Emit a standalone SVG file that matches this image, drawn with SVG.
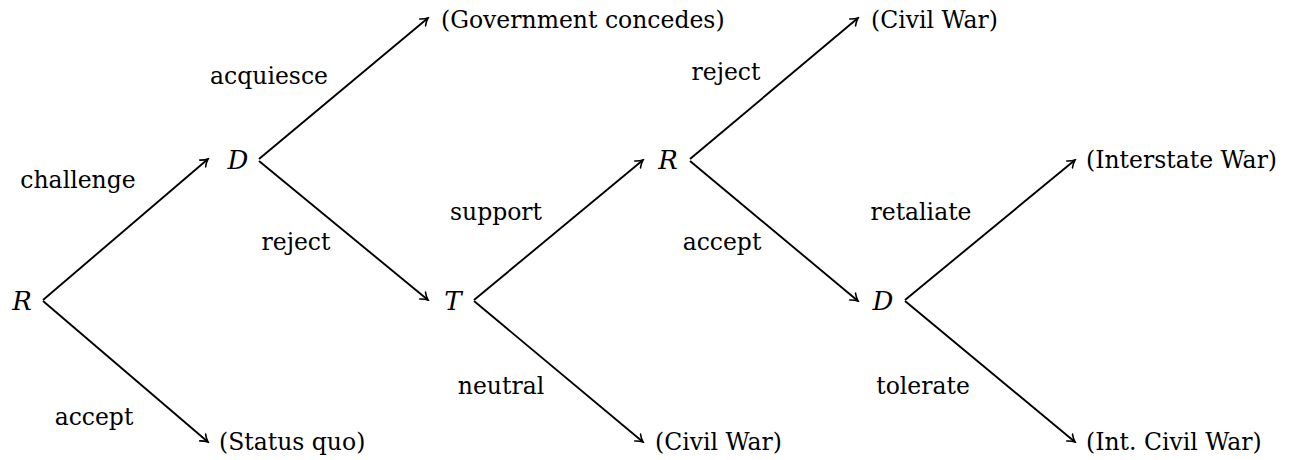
<svg xmlns="http://www.w3.org/2000/svg" width="1289" height="460" viewBox="0 0 1289 460">
<style>
text{font-family:"DejaVu Serif","Liberation Serif",serif;font-size:23.5px;fill:#000}
.n{font-style:italic;text-anchor:middle;font-size:26px}
.l{text-anchor:middle}
.e{stroke:#000;stroke-width:1.9;fill:none;marker-end:url(#a)}
</style>
<defs>
<marker id="a" viewBox="-8 -6 10 12" refX="0" refY="0" markerWidth="10" markerHeight="12" markerUnits="userSpaceOnUse" orient="auto">
<path d="M-7,-4.5 Q-3,-1 0,0 Q-3,1 -7,4.5" fill="none" stroke="#000" stroke-width="1.6" stroke-linecap="round"/>
</marker>
</defs>
<rect width="1289" height="460" fill="#fff"/>
<g id="connectors">
<line class="e" x1="43" y1="300" x2="208" y2="159"/>
<line class="e" x1="43" y1="301" x2="208" y2="442"/>
<line class="e" x1="259" y1="159" x2="428" y2="18"/>
<line class="e" x1="259" y1="161" x2="428" y2="300"/>
<line class="e" x1="474" y1="300" x2="643" y2="160"/>
<line class="e" x1="474" y1="301" x2="643" y2="442"/>
<line class="e" x1="690" y1="159" x2="858" y2="18"/>
<line class="e" x1="690" y1="161" x2="858" y2="301"/>
<line class="e" x1="905" y1="300" x2="1075" y2="160"/>
<line class="e" x1="905" y1="301" x2="1075" y2="442"/>
</g>
<g id="labels">
<text class="l" x="78" y="188">challenge</text>
<text class="l" x="94" y="425">accept</text>
<text class="l" x="269" y="84">acquiesce</text>
<text class="l" x="296" y="250">reject</text>
<text class="l" x="496" y="220">support</text>
<text class="l" x="501" y="394">neutral</text>
<text class="l" x="726" y="80">reject</text>
<text class="l" x="722" y="250">accept</text>
<text class="l" x="921" y="220">retaliate</text>
<text class="l" x="923" y="394">tolerate</text>
</g>
<g id="node-R1"><text class="n" x="22" y="310">R</text></g>
<g id="node-D1"><text class="n" x="238" y="169">D</text></g>
<g id="node-T"><text class="n" x="453" y="310">T</text></g>
<g id="node-R2"><text class="n" x="668" y="169">R</text></g>
<g id="node-D2"><text class="n" x="883" y="310">D</text></g>
<g id="out-gov"><text x="441" y="28">(Government concedes)</text></g>
<g id="out-sq"><text x="219" y="450">(Status quo)</text></g>
<g id="out-cw1"><text x="871" y="28">(Civil War)</text></g>
<g id="out-cw2"><text x="655" y="450">(Civil War)</text></g>
<g id="out-isw"><text x="1086" y="168">(Interstate War)</text></g>
<g id="out-icw"><text x="1086" y="450">(Int. Civil War)</text></g>
</svg>
